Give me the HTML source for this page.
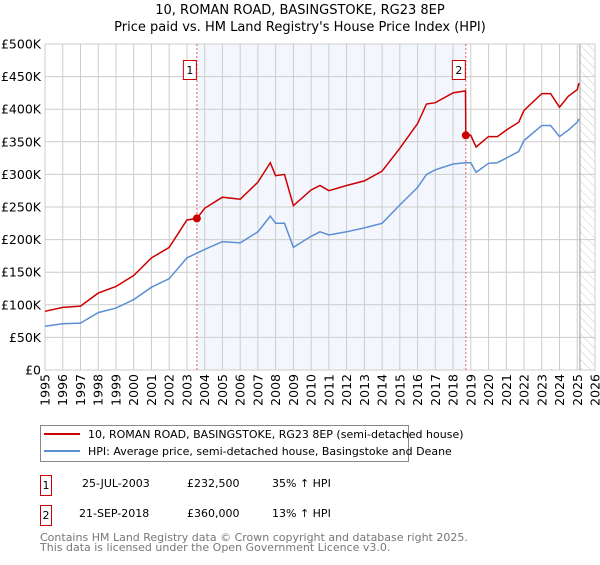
<!DOCTYPE html>
<html><head><meta charset="utf-8"><style>
body{margin:0;background:#fff;font-family:"Liberation Sans","DejaVu Sans",sans-serif;}
svg text{font-family:"DejaVu Sans","Liberation Sans",sans-serif;}
</style></head><body>
<svg id="chart" width="600" height="560" viewBox="0 0 600 560" xmlns="http://www.w3.org/2000/svg">
<defs><pattern id="hatch" width="6" height="6" patternUnits="userSpaceOnUse" patternTransform="rotate(-45)"><line x1="0" y1="0" x2="0" y2="6" stroke="#ccc" stroke-width="1"/></pattern></defs>
<text x="300" y="14" text-anchor="middle" font-size="13" fill="#000">10, ROMAN ROAD, BASINGSTOKE, RG23 8EP</text>
<text x="300" y="31" text-anchor="middle" font-size="13" fill="#000">Price paid vs. HM Land Registry's House Price Index (HPI)</text>
<g id="plot"></g>
<rect x="40.5" y="425.5" width="368" height="36" fill="#fff" stroke="#888"/>
<line x1="44" y1="434" x2="80" y2="434" stroke="#cc0000" stroke-width="2"/>
<text x="88" y="438" font-size="11">10, ROMAN ROAD, BASINGSTOKE, RG23 8EP (semi-detached house)</text>
<line x1="44" y1="451" x2="80" y2="451" stroke="#5b8fd4" stroke-width="2"/>
<text x="88" y="455" font-size="11">HPI: Average price, semi-detached house, Basingstoke and Deane</text>
<g font-size="11">
<rect x="40.5" y="475.5" width="11" height="20" fill="#fff" stroke="#cc0000"/><text x="46" y="489" text-anchor="middle">1</text>
<text x="82" y="487">25-JUL-2003</text><text x="187" y="487">£232,500</text><text x="272" y="487">35% ↑ HPI</text></g>
<g font-size="11">
<rect x="40.5" y="505.5" width="11" height="20" fill="#fff" stroke="#cc0000"/><text x="46" y="519" text-anchor="middle">2</text>
<text x="79" y="517">21-SEP-2018</text><text x="187" y="517">£360,000</text><text x="272" y="517">13% ↑ HPI</text></g>
<text x="40" y="541" font-size="11" fill="#777">Contains HM Land Registry data © Crown copyright and database right 2025.</text>
<text x="40" y="551" font-size="11" fill="#777">This data is licensed under the Open Government Licence v3.0.</text>
</svg>
<script>
const hpiYears=[1995,1996,1997,1998,1999,2000,2001,2002,2003,2004,2005,2006,2007,2007.7,2008,2008.5,2009,2010,2010.5,2011,2012,2013,2014,2015,2016,2016.5,2017,2018,2018.7,2019,2019.3,2020,2020.5,2021,2021.7,2022,2023,2023.5,2024,2024.5,2025,2025.1];
const hpiValues=[67,71,72,88,95,108,127,140,172,185,197,195,212,236,225,225,188,205,212,207,212,218,225,253,280,300,307,316,318,318,303,317,318,325,335,352,375,375,358,368,380,385];
const redYears=[1995,1996,1997,1998,1999,2000,2001,2002,2003,2003.56,2004,2005,2006,2007,2007.7,2008,2008.5,2009,2010,2010.5,2011,2012,2013,2014,2015,2016,2016.5,2017,2018,2018.7,2018.72,2019,2019.3,2020,2020.5,2021,2021.7,2022,2023,2023.5,2024,2024.5,2025,2025.1];
const redValues=[90,96,98,118,128,145,172,188,230,232.5,248,265,262,288,318,298,300,252,276,283,275,283,290,305,340,378,408,410,425,428,360,360,342,358,358,368,380,398,424,424,403,420,430,440];
const saleYears=[2003.56,2018.72];
const saleValues=[232.5,360];
const saleLabels=["1","2"];
const yTicks=[0,50,100,150,200,250,300,350,400,450,500];
const yTickLabels=["£0","£50K","£100K","£150K","£200K","£250K","£300K","£350K","£400K","£450K","£500K"];
const xTicks=[1995,1996,1997,1998,1999,2000,2001,2002,2003,2004,2005,2006,2007,2008,2009,2010,2011,2012,2013,2014,2015,2016,2017,2018,2019,2020,2021,2022,2023,2024,2025,2026];

const X0=45,X1=595,Y0=370,Y1=44;
const xs=y=>X0+(y-1995)/(2026-1995)*(X1-X0);
const ys=v=>Y0-v/500*(Y0-Y1);
const NS="http://www.w3.org/2000/svg";
const g=document.getElementById('plot');
function mk(t,a){const e=document.createElementNS(NS,t);for(const k in a)e.setAttribute(k,a[k]);g.appendChild(e);return e;}
let r=mk('rect',{x:xs(saleYears[0]),y:Y1,width:xs(saleYears[1])-xs(saleYears[0]),height:Y0-Y1,fill:'#eef3fc',opacity:0.7});


let h=mk('rect',{x:xs(2025.15),y:Y1,width:X1-xs(2025.15),height:Y0-Y1,fill:'url(#hatch)'});


yTicks.forEach((v,i)=>{
 let l=mk('line',{x1:X0,x2:X1,y1:ys(v),y2:ys(v),stroke:'#ccc'});
 
 
 let t=mk('text',{x:X0-4,y:ys(v)+4.5,'text-anchor':'end','font-size':'12.5'});t.textContent=yTickLabels[i];
 
 
});
xTicks.forEach(y=>{
 let l=mk('line',{x1:xs(y),x2:xs(y),y1:Y1,y2:Y0,stroke:'#ccc'});
 
 
 let t=mk('text',{x:0,y:0,'text-anchor':'end','font-size':'12.5',transform:`translate(${xs(y)+4.5},374) rotate(-90)`});t.textContent=y;
 
 
});
let vl=mk('line',{x1:xs(2025.15),x2:xs(2025.15),y1:Y1,y2:Y0,stroke:'#999'});


mk('rect',{x:X0,y:Y1,width:X1-X0,height:Y0-Y1,fill:'none',stroke:'#ccc'});
saleYears.forEach((y,i)=>{
 let l=mk('line',{x1:xs(y),x2:xs(y),y1:Y1,y2:Y0,stroke:'#e06060','stroke-dasharray':'2,2'});
 
 
 let b=mk('rect',{x:xs(y)-13.5,y:60.5,width:13,height:19,fill:'#fff',stroke:'#cc0000'});
 
 
 let t=mk('text',{x:xs(y)-7,y:74,'text-anchor':'middle','font-size':'11'});t.textContent=saleLabels[i];
 
 
});
const path=(xa,va)=>xa.map((y,i)=>(i?'L':'M')+xs(y).toFixed(1)+','+ys(va[i]).toFixed(1)).join('');
let hp=mk('path',{d:path(hpiYears,hpiValues),fill:'none',stroke:'#5b8fd4','stroke-width':1.5});


let rp=mk('path',{d:path(redYears,redValues),fill:'none',stroke:'#cc0000','stroke-width':1.5});


saleYears.forEach((y,i)=>{
 let c=mk('circle',{cx:xs(y),cy:ys(saleValues[i]),r:4,fill:'#cc0000'});
 
 
});
</script>
</body></html>
